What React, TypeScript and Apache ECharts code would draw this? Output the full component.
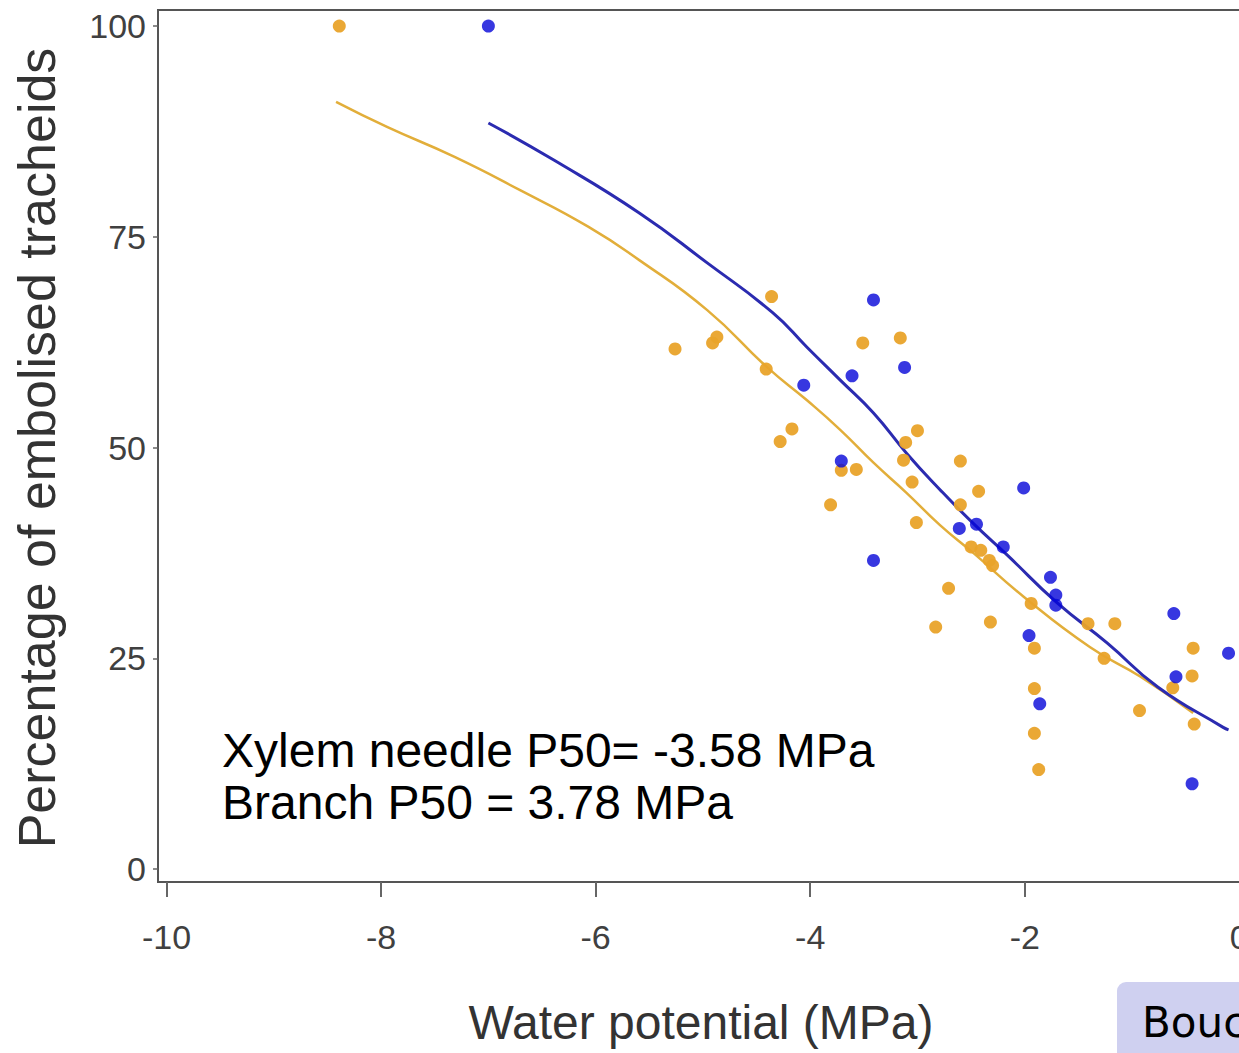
import React, { useEffect, useRef } from "react";
import * as echarts from "echarts";

// Needle (orange) measured points
const needleX = [-8.39, -5.26, -4.91, -4.87, -4.36, -4.41, -4.28, -4.17, -3.81, -3.71, -3.57, -3.51, -3.16, -3.0, -3.11, -3.13, -3.05, -3.01, -2.6, -2.43, -2.6, -2.5, -2.41, -2.33, -2.3, -2.71, -2.83, -2.32, -1.94, -1.91, -1.41, -1.16, -1.26, -1.91, -0.93, -1.91, -1.87, -0.43, -0.44, -0.62, -0.42];
const needleY = [100, 61.7, 62.4, 63.1, 67.9, 59.3, 50.7, 52.2, 43.2, 47.3, 47.4, 62.4, 63.0, 52.0, 50.6, 48.5, 45.9, 41.1, 48.4, 44.8, 43.2, 38.2, 37.8, 36.6, 36.0, 33.3, 28.7, 29.3, 31.5, 26.2, 29.1, 29.1, 25.0, 21.4, 18.8, 16.1, 11.8, 26.2, 22.9, 21.5, 17.2];

// Branch (blue) measured points
const branchX = [-7.0, -4.06, -3.61, -3.41, -3.12, -3.71, -3.41, -2.01, -2.61, -2.45, -2.2, -1.76, -1.71, -1.71, -1.96, -1.86, -0.61, -0.59, -0.1, -0.44];
const branchY = [100, 57.4, 58.5, 67.5, 59.5, 48.4, 36.6, 45.2, 40.4, 40.9, 38.2, 34.6, 32.5, 31.3, 27.7, 19.6, 30.3, 22.8, 25.6, 10.1];

// Fitted curves
const needleCurveX = [-8.42, -7.94, -7.32, -6.7, -6.07, -5.59, -4.96, -4.4, -4.03, -3.72, -3.41, -3.1, -2.79, -2.48, -2.01, -1.39, -0.92, -0.43];
const needleCurveY = [91.0, 88.0, 84.5, 80.5, 76.2, 72.2, 66.3, 59.5, 55.6, 52.1, 48.2, 44.6, 40.8, 37.5, 32.3, 26.3, 22.8, 18.5];
const branchCurveX = [-7.0, -6.39, -5.59, -4.96, -4.35, -4.03, -3.72, -3.41, -3.1, -2.79, -2.48, -2.16, -1.7, -1.23, -0.76, -0.15, -0.1];
const branchCurveY = [88.5, 84.1, 77.8, 71.9, 66.0, 61.9, 58.0, 54.1, 49.3, 45.0, 41.0, 37.2, 31.6, 26.8, 21.6, 16.8, 16.5];

const xTicks = [-10, -8, -6, -4, -2, 0];
const yTicks = [0, 25, 50, 75, 100];

const xTitle = "Water potential (MPa)";
const yTitle = "Percentage of embolised tracheids";
const note1 = "Xylem needle P50= -3.58 MPa";
const note2 = "Branch P50 = 3.78 MPa";
const sourceText = "Bouche et al.";

const ORANGE = "#E9A32A";
const ORANGE_LINE = "#E2AE3A";
const BLUE = "#0505D8";
const BLUE_LINE = "#2B2BB0";

const zip = (xs: number[], ys: number[]) => xs.map((x, i) => [x, ys[i]]);

export default function App() {
  const ref = useRef<HTMLDivElement>(null);
  useEffect(() => {
    document.body.style.margin = "0";
    document.body.style.overflow = "hidden";
    const chart = echarts.init(ref.current!, undefined, { renderer: "svg" });
    const axisFont = "Liberation Sans, Arial, sans-serif";
    chart.setOption({
      animation: false,
      backgroundColor: "#ffffff",
      grid: {
        left: 158,
        top: 10,
        right: 10,
        bottom: 171,
        show: true,
        borderColor: "#555555",
        borderWidth: 2,
        backgroundColor: "transparent",
      },
      xAxis: {
        type: "value",
        min: -10.08,
        max: 0.1,
        axisLine: { show: true, onZero: false, lineStyle: { color: "#555555", width: 2 } },
        axisTick: {
          show: true,
          customValues: xTicks,
          length: 15,
          lineStyle: { color: "#666666", width: 2 },
        },
        axisLabel: {
          customValues: xTicks,
          fontSize: 34,
          color: "#404040",
          fontFamily: axisFont,
          margin: 38,
          showMinLabel: true,
          showMaxLabel: true,
        },
        splitLine: { show: false },
      },
      yAxis: {
        type: "value",
        min: -1.54,
        max: 101.9,
        axisLine: { show: true, onZero: false, lineStyle: { color: "#555555", width: 2 } },
        axisTick: {
          show: true,
          customValues: yTicks,
          length: 5,
          lineStyle: { color: "#666666", width: 1.5 },
        },
        axisLabel: {
          customValues: yTicks,
          fontSize: 34,
          color: "#404040",
          fontFamily: axisFont,
          margin: 12,
          showMinLabel: true,
          showMaxLabel: true,
        },
        splitLine: { show: false },
      },
      series: [
        {
          type: "line",
          data: zip(needleCurveX, needleCurveY),
          smooth: 0.5,
          symbol: "none",
          lineStyle: { color: ORANGE_LINE, width: 2.5 },
          z: 2,
        },
        {
          type: "line",
          data: zip(branchCurveX, branchCurveY),
          smooth: 0.5,
          symbol: "none",
          lineStyle: { color: BLUE_LINE, width: 3 },
          z: 2,
        },
        {
          type: "scatter",
          data: zip(needleX, needleY),
          symbolSize: 13,
          itemStyle: { color: ORANGE, opacity: 0.95 },
          z: 3,
        },
        {
          type: "scatter",
          data: zip(branchX, branchY),
          symbolSize: 13,
          itemStyle: { color: BLUE },
          z: 4,
        },
      ],
      graphic: [
        {
          type: "text",
          x: 37,
          y: 448,
          rotation: Math.PI / 2,
          style: {
            text: yTitle,
            fontSize: 52,
            fontFamily: axisFont,
            fill: "#333333",
            align: "center",
            verticalAlign: "middle",
          },
        },
        {
          type: "text",
          x: 701,
          y: 1022,
          style: {
            text: xTitle,
            fontSize: 48,
            fontFamily: axisFont,
            fill: "#333333",
            align: "center",
            verticalAlign: "middle",
          },
        },
        {
          type: "text",
          x: 222,
          y: 750,
          style: {
            text: note1,
            fontSize: 48,
            fontFamily: axisFont,
            fill: "#000000",
            align: "left",
            verticalAlign: "middle",
          },
        },
        {
          type: "text",
          x: 222,
          y: 802,
          style: {
            text: note2,
            fontSize: 48,
            fontFamily: axisFont,
            fill: "#000000",
            align: "left",
            verticalAlign: "middle",
          },
        },
        {
          type: "rect",
          shape: { x: 1117, y: 982, width: 160, height: 100, r: 9 },
          style: { fill: "#CFD0F0" },
        },
        {
          type: "text",
          x: 1142,
          y: 1022,
          style: {
            text: sourceText,
            fontSize: 42,
            fontFamily: "DejaVu Sans, sans-serif",
            fill: "#000000",
            align: "left",
            verticalAlign: "middle",
          },
        },
      ],
    });
    return () => chart.dispose();
  }, []);
  return <div ref={ref} style={{ width: 1260, height: 1053 }} />;
}
